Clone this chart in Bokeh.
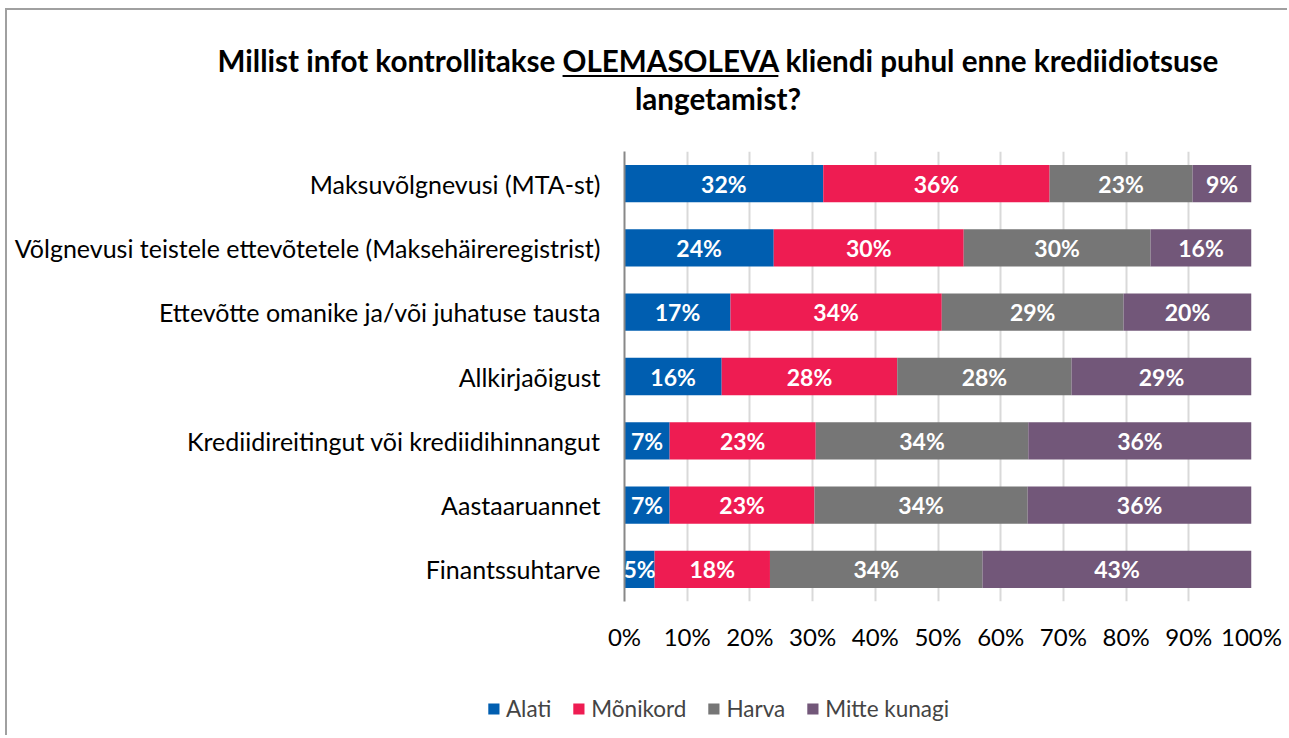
from bokeh.plotting import figure
from bokeh.layouts import column, row
from bokeh.models import (ColumnDataSource, Legend, LegendItem, Div,
                          FixedTicker, Range1d)
from bokeh.core.properties import value
from bokeh.embed import file_html
from bokeh.resources import INLINE

categories = [
    "Maksuvõlgnevusi (MTA-st)",
    "Võlgnevusi teistele ettevõtetele (Maksehäireregistrist)",
    "Ettevõtte omanike ja/või juhatuse tausta",
    "Allkirjaõigust",
    "Krediidireitingut või krediidihinnangut",
    "Aastaaruannet",
    "Finantssuhtarve",
]
alati = [31.7, 23.8, 16.9, 15.5, 7.2, 7.2, 4.8]
monikord = [36.1, 30.3, 33.7, 28.0, 23.3, 23.1, 18.4]
harva = [22.8, 29.8, 29.0, 27.8, 33.9, 34.0, 33.9]
mitte = [9.4, 16.1, 20.4, 28.7, 35.6, 35.7, 42.9]
series = ["Alati", "Mõnikord", "Harva", "Mitte kunagi"]
colors = ["#005EB0", "#EE1C52", "#767676", "#725779"]
x_ticks = [0, 10, 20, 30, 40, 50, 60, 70, 80, 90, 100]
x_tick_labels = ["0%", "10%", "20%", "30%", "40%", "50%", "60%", "70%", "80%", "90%", "100%"]
title_parts = ["Millist infot kontrollitakse", "OLEMASOLEVA", "kliendi puhul enne krediidiotsuse", "langetamist?"]

FONT = "Lato"

# ---- title (HTML so that one word can be underlined)
title_html = (
    '<div style="width:1280px;box-sizing:border-box;font-family:Lato, sans-serif;font-weight:bold;'
    'font-size:29.6px;line-height:38px;padding-top:32px;padding-left:142px;text-align:center;'
    'white-space:nowrap;color:#000;">'
    f'{title_parts[0]} <u style="text-decoration-thickness:2px;text-underline-offset:3px;">{title_parts[1]}</u> '
    f'{title_parts[2]}<br>{title_parts[3]}</div>'
)
title_div = Div(text=title_html, width=1280, height=119, margin=0)

# ---- chart
keys = ["s0", "s1", "s2", "s3"]
src = ColumnDataSource(dict(cat=categories, s0=alati, s1=monikord, s2=harva, s3=mitte))

p = figure(width=1280, height=532, output_backend="svg", toolbar_location=None,
           y_range=list(reversed(categories)), x_range=Range1d(0, 100),
           min_border_left=617, min_border_right=36, min_border_top=22, min_border_bottom=60)
p.margin = 0
p.outline_line_color = None
p.background_fill_color = "white"

renderers = p.hbar_stack(keys, y="cat", height=0.58, color=colors, source=src, line_color=None)

# segment labels
lx, ly, lt = [], [], []
for i, c in enumerate(categories):
    left = 0.0
    for arr in (alati, monikord, harva, mitte):
        v = arr[i]
        lx.append(left + v / 2)
        ly.append(c)
        lt.append(f"{round(v)}%")
        left += v
lsrc = ColumnDataSource(dict(x=lx, y=ly, t=lt))
p.text(x="x", y="y", text="t", source=lsrc, text_align="center", text_baseline="middle",
       text_color="white", text_font=value(FONT), text_font_style="bold", text_font_size="23px")

# axes
p.xaxis.ticker = FixedTicker(ticks=x_ticks)
p.xaxis.major_label_overrides = {t: l for t, l in zip(x_ticks, x_tick_labels)}
p.xaxis.axis_line_color = None
p.xaxis.major_tick_line_color = None
p.xaxis.minor_tick_line_color = None
p.xaxis.major_tick_out = 0
p.xaxis.major_label_standoff = 20
p.xaxis.major_label_text_font = FONT
p.xaxis.major_label_text_font_size = "24px"
p.xaxis.major_label_text_color = "#000000"

p.yaxis.axis_line_color = "#888888"
p.yaxis.axis_line_width = 2
p.yaxis.major_tick_line_color = None
p.yaxis.major_tick_out = 0
p.yaxis.major_label_standoff = 24
p.yaxis.major_label_text_font = FONT
p.yaxis.major_label_text_font_size = "25px"
p.yaxis.major_label_text_color = "#000000"

p.xgrid.ticker = FixedTicker(ticks=x_ticks)
p.xgrid.grid_line_color = "#D9D9D9"
p.xgrid.grid_line_width = 2
p.ygrid.grid_line_color = None

# ---- legend strip (its own frame, so nothing is clipped)
lg = figure(width=1280, height=74, output_backend="svg", toolbar_location=None,
            x_range=Range1d(0, 1), y_range=Range1d(0, 1), x_axis_type=None, y_axis_type=None,
            min_border_left=141, min_border_right=0, min_border_top=20, min_border_bottom=0)
lg.margin = 0
lg.outline_line_color = None
lg.grid.grid_line_color = None
# off-range proxy glyphs, only used to draw the legend swatches
proxy = ColumnDataSource(dict(x=[-9.0], y=[-9.0]))
dummy = [lg.rect(x="x", y="y", width=1, height=1, source=proxy, fill_color=c, line_color=None)
         for c in colors]
items = [LegendItem(label=s, renderers=[r]) for s, r in zip(series, dummy)]
legend = Legend(items=items, orientation="horizontal", location="center",
                glyph_width=14, glyph_height=14, label_standoff=6, spacing=20,
                padding=0, margin=0, border_line_color=None, background_fill_alpha=0,
                label_text_font=FONT, label_text_font_size="22.5px")
lg.add_layout(legend)

legend_row = row(lg, spacing=0, margin=0)

layout = column(title_div, p, legend_row, spacing=0,
                styles={"margin-left": "5px", "margin-top": "8px",
                        "border-left": "2px solid #a0a0a0", "border-top": "2px solid #a0a0a0"})

open("out.html", "w").write(file_html(layout, INLINE))
